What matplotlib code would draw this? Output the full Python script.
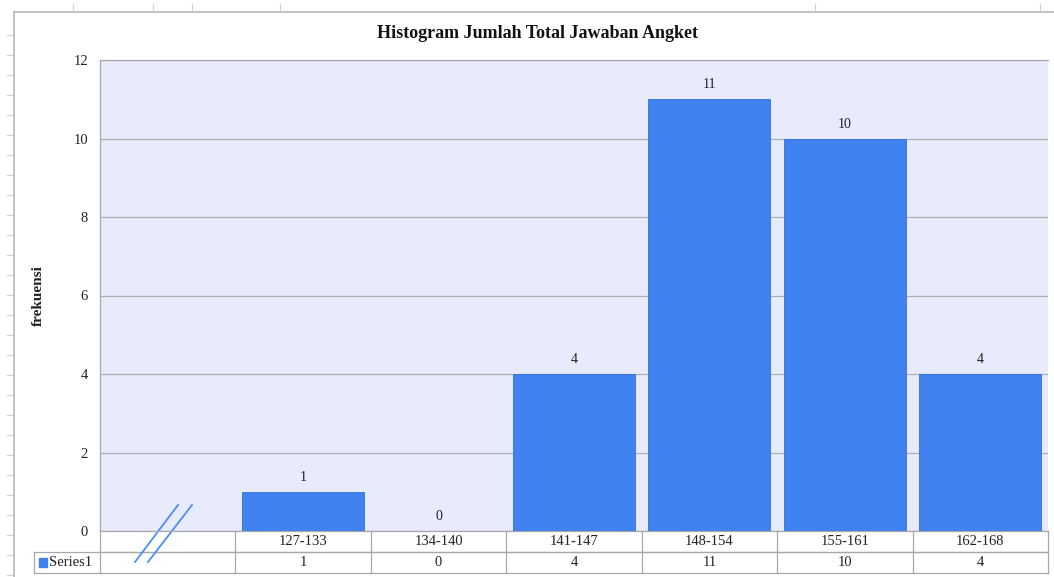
import matplotlib
matplotlib.use('Agg')
import matplotlib.pyplot as plt
from matplotlib.lines import Line2D
from matplotlib.patches import Rectangle
import matplotlib.transforms as mtransforms

plt.rcParams['font.family'] = ['Liberation Serif', 'DejaVu Serif']

# data
categories = ['127-133', '134-140', '141-147', '148-154', '155-161', '162-168']
frekuensi = [1, 0, 4, 11, 10, 4]
series_name = 'Series1'
y_ticks = [0, 2, 4, 6, 8, 10, 12]

W, H = 1054, 577
bar_color = '#4083F0'
grid_color = '#B0B0B0'
line_color = '#A8A8A8'
txt = '#222222'

fig = plt.figure(figsize=(W / 100, H / 100), dpi=100)
fig.patch.set_facecolor('white')

# plot area in pixel terms
px_l, px_r, px_t, px_b = 100, 1048, 60, 531
ax = fig.add_axes([px_l / W, 1 - px_b / H, (px_r - px_l) / W, (px_b - px_t) / H])
ax.set_facecolor('#E8EBFC')

positions = list(range(1, len(categories) + 1))
ax.bar(positions, frekuensi, width=0.9, color=bar_color, edgecolor='#3570D8',
       linewidth=0.6, zorder=3)
for x, v in zip(positions, frekuensi):
    ax.annotate(str(v), (x, v), xytext=(0, 10.4), textcoords='offset points',
                ha='center', va='center', fontsize=10, color=txt)

ax.set_xlim(-0.5, len(categories) + 0.5)
ax.set_ylim(0, 12)
ax.set_yticks(y_ticks)
ax.set_yticklabels([str(t) for t in y_ticks], fontsize=10.5, color=txt)
ax.tick_params(axis='y', length=0, pad=8.6)
ax.set_xticks([])
ax.yaxis.grid(True, color=grid_color, linewidth=0.9, zorder=0)
ax.set_axisbelow(True)
for name, sp in ax.spines.items():
    sp.set_color(line_color)
    sp.set_linewidth(0.9)
ax.spines['right'].set_visible(False)

ax.set_ylabel('frekuensi', fontsize=11, fontweight='bold', color=txt)
ax.yaxis.set_label_coords((45 - px_l) / (px_r - px_l), 0.5)

fig.text(538 / W, 1 - 33 / H, 'Histogram Jumlah Total Jawaban Angket',
         ha='center', va='center', fontsize=13, fontweight='bold', color='#111111')

# data table below the plot
trans = mtransforms.blended_transform_factory(ax.transData, ax.transAxes)
row_h = 21 / (px_b - px_t)
unit_px = (px_r - px_l) / (len(categories) + 1)
legend_left = -0.5 - (px_l - 34) / unit_px
edges = [i + 0.5 for i in range(-1, len(categories) + 1)]

def tline(xs, ys, **kw):
    ax.add_line(Line2D(xs, ys, transform=trans, clip_on=False, color=line_color,
                       linewidth=0.9, **kw))

tline([-0.5, edges[-1]], [-row_h, -row_h])
tline([legend_left, edges[-1]], [-row_h, -row_h])
tline([legend_left, edges[-1]], [-2 * row_h, -2 * row_h])
tline([legend_left, legend_left], [-row_h, -2 * row_h])
for e in edges:
    tline([e, e], [0, -2 * row_h])

for x, c, v in zip(positions, categories, frekuensi):
    ax.text(x, -0.5 * row_h, c, transform=trans, ha='center', va='center',
            fontsize=10.5, color=txt, clip_on=False)
    ax.text(x, -1.5 * row_h, str(v), transform=trans, ha='center', va='center',
            fontsize=10.5, color=txt, clip_on=False)

ax_h = px_b - px_t
ax.add_patch(Rectangle((legend_left + 5 / unit_px, -1.5 * row_h - 4.5 / ax_h),
                       8 / unit_px, 9 / ax_h,
                       transform=trans, color=bar_color, clip_on=False))
ax.text(legend_left + 15 / unit_px, -1.5 * row_h, series_name, transform=trans,
        ha='left', va='center', fontsize=10.5, color=txt, clip_on=False)

# axis break marks
for x0, x1 in [(135, 178), (148, 192)]:
    ax.add_line(Line2D([(x0 - px_l) / unit_px - 0.5, (x1 - px_l) / unit_px - 0.5],
                       [(px_b - 562) / ax_h, (px_b - 505) / ax_h], transform=trans,
                       clip_on=False, color='#4D8DF5', linewidth=1.3))

# sheet frame and ruler marks
def fline(x0, y0, x1, y1, **kw):
    fig.add_artist(Line2D([x0 / W, x1 / W], [1 - y0 / H, 1 - y1 / H], **kw))

fline(14, 12, W, 12, color='#B8B8B8', linewidth=1.2)
fline(14, 12, 14, H, color='#B8B8B8', linewidth=1.2)
for x in [73, 153, 192, 280, 815, 1040]:
    fline(x, 4, x, 10, color='#D0D0D0', linewidth=0.8)
for y in range(35, H, 20):
    fline(7, y, 12, y, color='#D0D0D0', linewidth=0.8)

fig.savefig('out.png', dpi=100, facecolor='white')
